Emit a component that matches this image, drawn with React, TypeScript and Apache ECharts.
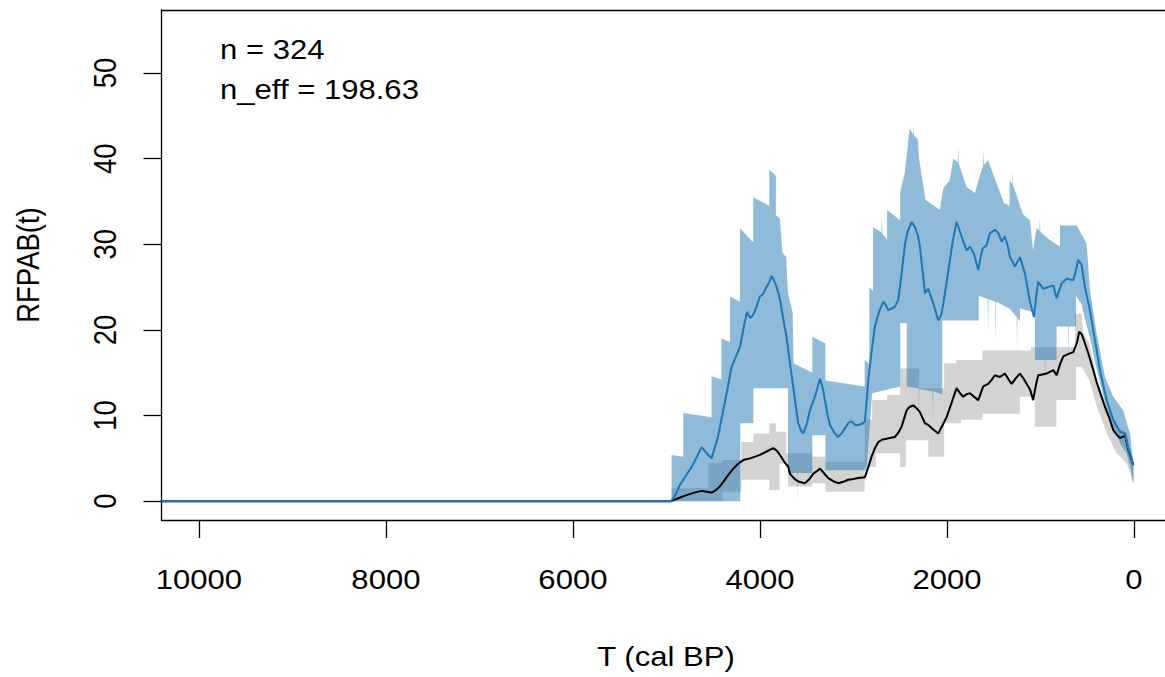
import React, { useEffect, useRef } from "react";
import * as echarts from "echarts";

// ---------- data (T in cal BP, value RFPAB) ----------
const xTicks = [10000, 8000, 6000, 4000, 2000, 0];
const yTicks = [0, 10, 20, 30, 40, 50];
const annotations = ["n = 324", "n_eff = 198.63"];
const xTitle = "T (cal BP)";
const yTitle = "RFPAB(t)";

const blueLine: number[][] = [
  [10400, 0], [4950, 0], [4900, 0.8], [4856, 1.9], [4790, 3.0], [4730, 4.0], [4670, 5.3], [4624, 6.3],
  [4570, 5.6], [4517, 5.0], [4449, 7.5], [4400, 10.2], [4356, 12.6], [4303, 15.7], [4260, 16.8],
  [4214, 18.0], [4175, 20.2], [4139, 22.1], [4105, 21.4], [4075, 21.7], [4040, 22.6], [4000, 23.9],
  [3965, 24.2], [3936, 24.9], [3900, 25.6], [3875, 26.3], [3850, 25.8], [3822, 25.0], [3786, 23.6],
  [3751, 21.3], [3716, 19.2], [3680, 16.2], [3644, 13.4], [3610, 10.6], [3590, 9.1], [3560, 8.2],
  [3537, 7.9], [3500, 9.0], [3465, 10.6], [3412, 12.2], [3358, 14.3], [3330, 13.3], [3305, 11.8],
  [3275, 10.0], [3251, 8.9], [3200, 7.9], [3162, 7.5], [3120, 8.0], [3091, 8.5], [3050, 9.2],
  [3019, 9.3], [2980, 8.9], [2948, 8.9], [2910, 9.0], [2877, 9.3], [2860, 11.5], [2842, 14.1],
  [2800, 18.0], [2770, 20.4], [2730, 22.0], [2681, 23.3], [2650, 22.8], [2627, 22.3], [2590, 22.5],
  [2556, 22.7], [2521, 23.5], [2485, 26.5], [2449, 30.0], [2420, 31.5], [2378, 32.6], [2342, 32.0],
  [2310, 31.0], [2289, 29.7], [2253, 26.2], [2235, 24.3], [2200, 24.8], [2146, 23.1], [2093, 21.1],
  [2060, 21.8], [2039, 23.1], [2000, 25.8], [1968, 28.2], [1930, 30.8], [1897, 32.6], [1870, 31.8],
  [1843, 30.9], [1790, 29.3], [1754, 29.7], [1711, 28.9], [1690, 28.0], [1665, 27.0], [1640, 28.5],
  [1618, 29.5], [1576, 29.9], [1540, 31.3], [1487, 31.7], [1451, 31.3], [1415, 30.3], [1380, 30.9],
  [1350, 29.8], [1326, 28.5], [1273, 27.4], [1219, 28.5], [1166, 26.6], [1112, 23.3], [1070, 21.5],
  [1045, 24.0], [1024, 25.6], [970, 24.8], [917, 25.0], [863, 25.2], [827, 23.7], [800, 24.6],
  [774, 25.4], [720, 26.0], [649, 25.8], [620, 27.0], [596, 28.2], [560, 27.6], [524, 25.0],
  [471, 22.3], [417, 18.8], [364, 15.3], [292, 11.8], [221, 9.5], [150, 8.1], [96, 7.9], [61, 6.2], [7, 4.2],
];

const blackLine: number[][] = [
  [10400, 0], [4950, 0], [4860, 0.4], [4784, 0.7], [4700, 1.0], [4624, 1.2], [4570, 1.1], [4517, 1.0],
  [4470, 1.3], [4428, 1.7], [4356, 2.8], [4285, 3.8], [4230, 4.4], [4178, 4.8], [4107, 5.0], [4050, 5.2],
  [4000, 5.4], [3929, 5.8], [3858, 6.2], [3820, 5.9], [3786, 5.4], [3740, 4.6], [3697, 4.0], [3679, 3.2],
  [3630, 2.6], [3590, 2.3], [3519, 2.1], [3470, 2.6], [3430, 3.2], [3380, 3.6], [3358, 3.8], [3310, 3.2],
  [3269, 2.7], [3210, 2.3], [3162, 2.1], [3100, 2.3], [3055, 2.5], [3000, 2.6], [2948, 2.7], [2877, 2.8],
  [2840, 4.0], [2806, 5.2], [2770, 6.2], [2734, 6.9], [2690, 7.2], [2645, 7.3], [2600, 7.4], [2556, 7.5],
  [2520, 8.0], [2485, 8.7], [2431, 10.6], [2400, 11.0], [2360, 11.2], [2320, 10.8], [2289, 10.4],
  [2235, 9.1], [2200, 8.9], [2150, 8.4], [2093, 7.9], [2050, 8.8], [2004, 9.8], [1950, 11.5], [1897, 13.2],
  [1860, 12.6], [1826, 12.2], [1790, 12.5], [1754, 12.6], [1710, 12.2], [1665, 11.8], [1612, 13.4],
  [1558, 13.7], [1520, 14.2], [1487, 14.7], [1433, 14.5], [1380, 14.9], [1340, 14.2], [1308, 13.7],
  [1260, 14.4], [1219, 14.9], [1180, 14.3], [1148, 13.7], [1110, 13.0], [1078, 11.8], [1050, 13.5],
  [1024, 14.7], [980, 14.8], [935, 14.9], [863, 15.3], [827, 14.7], [790, 16.0], [756, 16.9], [700, 17.2],
  [649, 17.4], [610, 18.5], [585, 19.8], [560, 19.5], [542, 19.0], [489, 17.3], [440, 15.5], [399, 13.9],
  [350, 12.3], [310, 11.0], [260, 9.6], [221, 8.3], [180, 7.7], [150, 7.4], [120, 7.5], [96, 7.7],
  [60, 6.0], [7, 4.2],
];

const blueUpper: number[][] = [
  [4945, 0], [4945, 5.4], [4820, 5.2], [4820, 10.3], [4517, 9.8], [4517, 14.6], [4412, 14.2], [4412, 19.0],
  [4321, 18.6], [4321, 23.9], [4214, 23.3], [4214, 31.9], [4071, 30.2], [4071, 35.5], [3900, 34.5],
  [3900, 38.7], [3830, 38.0], [3830, 33.4], [3786, 33.0], [3760, 29.0], [3720, 28.5], [3700, 24.3],
  [3650, 22.0], [3640, 16.1], [3440, 15.0], [3440, 19.2], [3300, 18.4], [3300, 14.1], [2880, 13.4],
  [2880, 16.5], [2830, 16.0], [2830, 25.0], [2790, 24.5], [2790, 32.0], [2700, 31.4], [2696, 33.5],
  [2692, 31.3], [2640, 30.5], [2640, 34.0], [2500, 32.8], [2500, 36.1], [2450, 38.4], [2400, 43.5],
  [2360, 42.8], [2356, 44.0], [2352, 42.7], [2310, 42.2], [2300, 40.1], [2230, 35.2], [2075, 34.0],
  [2040, 36.5], [1968, 37.5], [1933, 40.0], [1884, 39.6], [1880, 41.5], [1876, 39.5], [1790, 36.7],
  [1700, 36.0], [1640, 38.3], [1612, 39.2], [1608, 41.2], [1604, 39.3], [1560, 39.8], [1390, 34.8],
  [1330, 34.5], [1330, 37.5], [1300, 37.0], [1296, 38.8], [1292, 36.9], [1187, 33.5], [1112, 32.8],
  [1080, 29.3], [1041, 31.9], [1010, 31.6], [1006, 33.2], [1002, 31.5], [900, 30.5], [791, 29.7],
  [791, 32.2], [613, 32.2], [506, 30.1], [470, 24.6], [399, 19.6], [310, 14.5], [221, 12.2], [114, 10.6],
  [43, 7.9], [5, 4.4],
];

const blueLower: number[][] = [
  [4945, 0], [4210, 0], [4210, 9.1], [4070, 9.1], [4070, 13.2], [3700, 13.2], [3700, 3.3], [3600, 3.3],
  [3598, 0], [3596, 3.3], [3440, 3.3], [3440, 7.7], [3300, 7.7], [3300, 3.6], [2860, 3.6], [2800, 12.6],
  [2500, 13.4], [2500, 20.8], [2430, 20.8], [2430, 13.4], [2304, 13.2], [2300, 10.0], [2296, 13.1],
  [2154, 12.8], [2150, 9.5], [2146, 12.8], [2050, 12.5], [2050, 21.1], [1660, 21.1], [1660, 24.0],
  [1564, 23.6], [1560, 19.5], [1556, 23.6], [1484, 23.3], [1480, 18.5], [1476, 23.3], [1330, 22.5],
  [1254, 21.5], [1250, 17.5], [1246, 21.4], [1219, 21.0], [1219, 22.5], [1059, 22.0], [1059, 16.5],
  [954, 16.5], [950, 14.0], [946, 16.5], [827, 16.5], [827, 20.4], [704, 20.4], [700, 16.5], [696, 20.4],
  [620, 20.4], [620, 24.0], [560, 23.0], [540, 22.0], [470, 19.0], [400, 15.5], [310, 11.5], [220, 8.7],
  [150, 6.8], [80, 5.6], [40, 4.0], [5, 2.1],
];

const grayUpper: number[][] = [
  [4945, 0], [4945, 1.5], [4550, 1.5], [4550, 4.5], [4400, 4.5], [4400, 4.8], [4200, 4.8], [4200, 6.9],
  [4070, 6.9], [4070, 7.9], [3900, 7.9], [3900, 9.1], [3830, 9.1], [3830, 8.1], [3720, 8.1], [3720, 5.6],
  [3440, 5.6], [3440, 5.2], [3300, 5.2], [3300, 4.6], [2880, 4.6], [2880, 9.5], [2800, 9.5], [2800, 11.8],
  [2640, 11.8], [2640, 12.4], [2500, 12.4], [2500, 15.5], [2300, 15.5], [2300, 13.2], [2030, 13.2],
  [2030, 16.1], [1900, 16.1], [1900, 16.5], [1620, 16.5], [1620, 17.6], [1100, 17.6], [1100, 18.0],
  [630, 18.0], [630, 21.9], [560, 21.9], [540, 19.7], [475, 18.4], [395, 14.1], [290, 11.0], [185, 8.7],
  [75, 7.9], [5, 4.4],
];

const grayLower: number[][] = [
  [4945, 0], [4400, 0], [4400, 1.1], [4200, 1.1], [4200, 2.5], [3900, 2.5], [3900, 1.3], [3790, 1.3],
  [3790, 4.4], [3700, 4.4], [3700, 1.7], [3600, 1.7], [3598, 0], [3596, 1.7], [3440, 1.7], [3440, 2.1],
  [3300, 2.1], [3300, 1.1], [2880, 1.1], [2880, 4.0], [2760, 4.0], [2760, 5.6], [2500, 5.6], [2500, 4.0],
  [2440, 4.0], [2440, 7.1], [2200, 7.1], [2200, 5.2], [2030, 5.2], [2030, 9.1], [1850, 9.1], [1850, 9.5],
  [1620, 9.5], [1620, 10.2], [1220, 10.2], [1220, 12.2], [1060, 12.2], [1060, 8.7], [830, 8.7], [830, 11.8],
  [620, 11.8], [620, 15.7], [560, 15.7], [475, 14.1], [395, 11.0], [290, 7.9], [185, 5.6], [75, 4.4],
  [5, 1.9],
];

// ---------- chart ----------
const FONT = "'Liberation Sans', Arial, Helvetica, sans-serif";
const FS = 27.5;
const STRETCH = 1.13;

function bandSeries(upper: number[][], lower: number[][], fill: string, z: number) {
  const poly = upper.concat(lower.slice().reverse());
  return {
    type: "custom",
    z,
    silent: true,
    data: poly,
    encode: { x: 0, y: 1 },
    renderItem: (params: any, api: any) => {
      if (params.dataIndex !== 0) return null;
      const pts = poly.map((p) => api.coord(p));
      return {
        type: "polygon",
        shape: { points: pts },
        style: { fill, stroke: null },
      };
    },
  };
}

function txt(text: string, x: number, y: number, align: string, rotated = false) {
  return {
    type: "text",
    x,
    y,
    rotation: rotated ? Math.PI / 2 : 0,
    scaleX: rotated ? 1 : STRETCH,
    scaleY: rotated ? STRETCH : 1,
    silent: true,
    style: { text, fontSize: FS, fontFamily: FONT, fill: "#000", align, verticalAlign: "middle" },
  };
}

export default function App() {
  const ref = useRef<HTMLDivElement>(null);
  useEffect(() => {
    if (!ref.current) return;
    const chart = echarts.init(ref.current, null, { renderer: "svg" });
    const axisLineStyle = { color: "#000", width: 1.3 };
    const option: any = {
      animation: false,
      backgroundColor: "#fff",
      grid: { left: 161.5, right: 0, top: 10, bottom: 157 },
      xAxis: [
        {
          type: "value",
          inverse: true,
          min: -332,
          max: 10400,
          axisLine: { show: true, onZero: false, lineStyle: axisLineStyle },
          axisTick: { show: true, inside: false, length: 18, lineStyle: axisLineStyle, customValues: xTicks },
          axisLabel: { show: false },
          splitLine: { show: false },
        },
        {
          type: "value",
          position: "top",
          inverse: true,
          min: -332,
          max: 10400,
          axisLine: { show: true, onZero: false, lineStyle: axisLineStyle },
          axisTick: { show: false },
          axisLabel: { show: false },
          splitLine: { show: false },
        },
      ],
      yAxis: {
        type: "value",
        min: -2.2,
        max: 57.36,
        axisLine: { show: true, onZero: false, lineStyle: axisLineStyle },
        axisTick: { show: true, inside: false, length: 18, lineStyle: axisLineStyle, customValues: yTicks },
        axisLabel: { show: false },
        splitLine: { show: false },
      },
      series: [
        bandSeries(grayUpper, grayLower, "#d3d3d3", 1),
        bandSeries(blueUpper, blueLower, "rgba(31,119,180,0.5)", 2),
        {
          type: "line",
          z: 3,
          data: blackLine,
          showSymbol: false,
          symbol: "none",
          lineStyle: { color: "#000", width: 2 },
          silent: true,
        },
        {
          type: "line",
          z: 4,
          data: blueLine,
          showSymbol: false,
          symbol: "none",
          lineStyle: { color: "#1f77b4", width: 2 },
          silent: true,
        },
      ],
    };
    chart.setOption(option);

    // tick labels placed through the axes' own scales
    const graphics: any[] = [];
    xTicks.forEach((v) => {
      const px = chart.convertToPixel({ xAxisIndex: 0 }, v) as number;
      graphics.push(txt(String(v), px, 579, "center"));
    });
    yTicks.forEach((v) => {
      const py = chart.convertToPixel({ yAxisIndex: 0 }, v) as number;
      graphics.push(txt(String(v), 105, py, "center", true));
    });
    graphics.push(txt(annotations[0], 220, 49.5, "left"));
    graphics.push(txt(annotations[1], 220, 89.5, "left"));
    graphics.push(txt(xTitle, 666, 656, "center"));
    graphics.push(txt(yTitle, 28, 265, "center", true));
    chart.setOption({ graphic: graphics });

    return () => chart.dispose();
  }, []);
  return (
    <div
      ref={ref}
      style={{ position: "fixed", left: 0, top: 0, width: 1165, height: 677, background: "#fff" }}
    />
  );
}
